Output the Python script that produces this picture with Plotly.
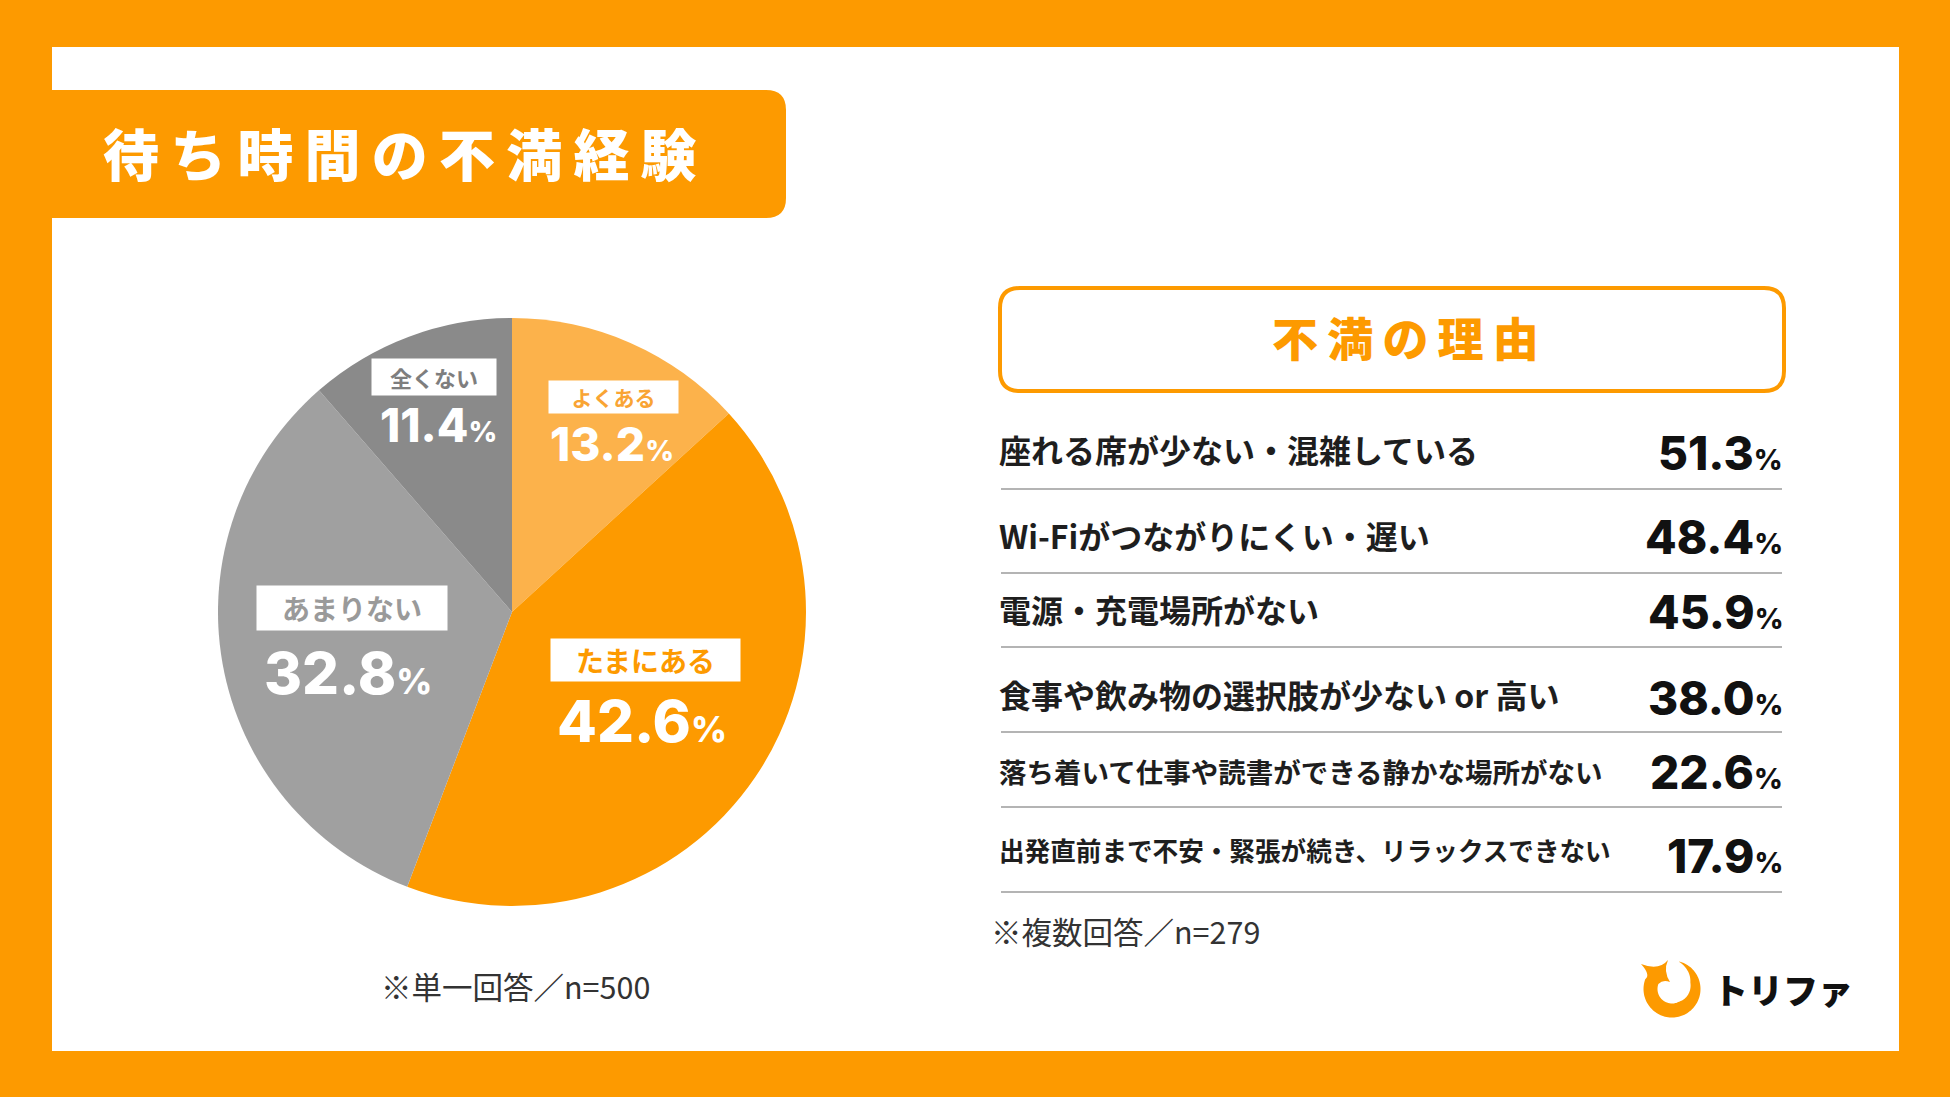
import numpy as np
import plotly.graph_objects as go

# ---------------- data ----------------
categories = ["よくある", "たまにある", "あまりない", "全くない"]
shares = [13.2, 42.6, 32.8, 11.4]

reasons = [
    "座れる席が少ない・混雑している",
    "Wi-Fiがつながりにくい・遅い",
    "電源・充電場所がない",
    "食事や飲み物の選択肢が少ない or 高い",
    "落ち着いて仕事や読書ができる静かな場所がない",
    "出発直前まで不安・緊張が続き、リラックスできない",
]
reason_values = [51.3, 48.4, 45.9, 38.0, 22.6, 17.9]

title_text = "待ち時間の不満経験"
reason_title = "不満の理由"
note_single = "※単一回答／n=500"
note_multi = "※複数回答／n=279"
brand = "トリファ"

# ---------------- styles ----------------
W, H = 1950, 1097
ORANGE = "#FD9A00"
slice_colors = ["#FCB24B", "#FD9A00", "#A0A0A0", "#8A8A8A"]
label_text_colors = ["#F9A434", "#FD9A00", "#9A9A9A", "#7E7E7E"]
JP = "Noto Sans CJK JP"
NUM = "Inter, Lato, Open Sans, sans-serif"


def X(px):
    return px / W


def Y(py):
    return 1 - py / H


def P(x, y):
    return f"{X(x)},{Y(y)}"


def rrect(x0, y0, x1, y1, r):
    tl, tr, br, bl = r
    p = [f"M{P(x0 + tl, y0)}", f"L{P(x1 - tr, y0)}",
         f"Q{P(x1, y0)} {P(x1, y0 + tr)}", f"L{P(x1, y1 - br)}",
         f"Q{P(x1, y1)} {P(x1 - br, y1)}", f"L{P(x0 + bl, y1)}",
         f"Q{P(x0, y1)} {P(x0, y1 - bl)}", f"L{P(x0, y0 + tl)}",
         f"Q{P(x0, y0)} {P(x0 + tl, y0)}", "Z"]
    return " ".join(p)


fig = go.Figure()

# pie
cx, cy, R = 512, 612, 294
fig.add_trace(go.Pie(
    values=shares, labels=categories, sort=False, direction="clockwise",
    rotation=0, marker=dict(colors=slice_colors, line=dict(width=0)),
    textinfo="none", hoverinfo="label+percent", showlegend=False,
    domain=dict(x=[X(cx - R), X(cx + R)], y=[Y(cy + R), Y(cy - R)]),
))

shapes = []
# white panel
shapes.append(dict(type="rect", xref="paper", yref="paper", x0=X(52), x1=X(1899),
                   y0=Y(1051), y1=Y(47), fillcolor="white", line=dict(width=0), layer="below"))
# title box
shapes.append(dict(type="path", xref="paper", yref="paper", path=rrect(40, 90, 786, 218, (0, 20, 20, 0)),
                   fillcolor=ORANGE, line=dict(width=0), layer="below"))
# reason title box
shapes.append(dict(type="path", xref="paper", yref="paper", path=rrect(1000, 288, 1784, 391, (20, 20, 20, 20)),
                   fillcolor="rgba(0,0,0,0)", line=dict(color=ORANGE, width=4), layer="below"))
# separators
sep_y = [489, 573, 647, 732, 807, 892]
for yy in sep_y:
    shapes.append(dict(type="line", xref="paper", yref="paper", x0=X(1001), x1=X(1782), y0=Y(yy), y1=Y(yy),
                       line=dict(color="#B4B4B4", width=2), layer="below"))

# logo swoosh (ring + sparkle)
lc = (1672.0, 989.0)
Ro = 28.5
deg = np.linspace(-75, 200, 90)
th = np.radians(deg)
w = np.interp(deg, [-75, -20, 60, 200], [0.5, 9, 14, 14])
outer = np.c_[lc[0] + Ro * np.cos(th), lc[1] + Ro * np.sin(th)]
inner = np.c_[lc[0] + (Ro - w) * np.cos(th), lc[1] + (Ro - w) * np.sin(th)]
parts = ["M" + P(*outer[0])] + ["L" + P(*q) for q in outer[1:]]
parts += [f"Q{P(1651, 975)} {P(1641, 964)}", f"Q{P(1659, 971)} {P(1668, 960)}",
          f"Q{P(1663, 971)} {P(1670, 982)}", f"Q{P(1663, 979)} {P(*inner[-1])}"]
parts += ["L" + P(*q) for q in inner[::-1]] + ["Z"]
shapes.append(dict(type="path", xref="paper", yref="paper", path=" ".join(parts),
                   fillcolor=ORANGE, line=dict(width=0)))

ann = []


def A(x, y, text, size, color, family=JP, xanchor="center", weight=700, **kw):
    ann.append(dict(x=X(x), y=Y(y), xref="paper", yref="paper", text=text, showarrow=False,
                    xanchor=xanchor, yanchor="middle",
                    font=dict(size=size, color=color, family=family, weight=weight), **kw))


# title
A(101, 151, "\u2009".join(title_text), 56, "white", xanchor="left", weight=900)
A(1405, 336, "\u2009".join(reason_title), 46, ORANGE, weight=900)

# pie labels
box_pos = [(613, 397), (645, 660), (352, 608), (434, 377)]
box_size = [(129, 32), (189, 42), (190, 44), (124, 36)]
box_font = [21, 28, 28, 22]
pct_pos = [(612, 444), (642, 721), (348, 673), (438, 425)]
pct_font = [46, 58, 58, 46]
for i, c in enumerate(categories):
    A(box_pos[i][0], box_pos[i][1], c, box_font[i], label_text_colors[i],
      bgcolor="white", width=box_size[i][0], height=box_size[i][1], borderpad=0)
    A(pct_pos[i][0], pct_pos[i][1],
      f"{shares[i]:.1f}<span style='font-size:{int(pct_font[i]*0.62)}px'>%</span>",
      pct_font[i], "white", family=NUM, weight=800)

# reasons
label_y = [449, 535, 609, 694, 771, 849]
value_y = [453, 537, 612, 698, 772, 856]
label_size = [32, 32, 32, 32, 27.5, 25.6]
for i, r in enumerate(reasons):
    A(997, label_y[i], r, label_size[i], "#1E1E1E", xanchor="left")
    A(1785, value_y[i], f"{reason_values[i]:.1f}<span style='font-size:28px'>%</span>",
      46, "#111111", family=NUM, xanchor="right", weight=800)

# notes
A(379, 986, note_single, 30.5, "#333333", xanchor="left", weight=400)
A(989, 931, note_multi, 30.5, "#333333", xanchor="left", weight=400)

# brand
A(1711, 988, brand, 35, "#111111", xanchor="left", weight=900)

fig.update_layout(
    width=W, height=H, margin=dict(l=0, r=0, t=0, b=0),
    paper_bgcolor=ORANGE, plot_bgcolor=ORANGE,
    shapes=shapes, annotations=ann, showlegend=False,
    font=dict(family=JP),
)
fig.write_html("out.html")
